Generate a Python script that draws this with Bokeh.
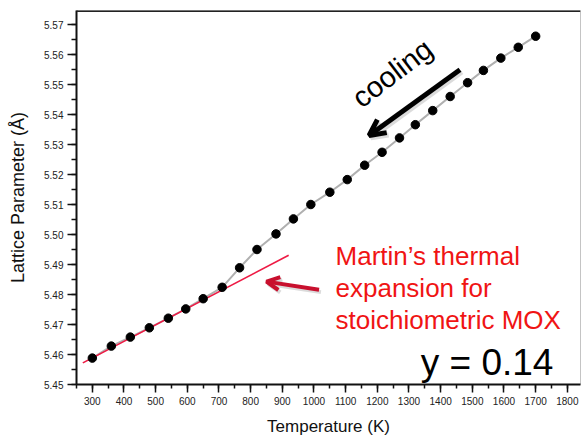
from bokeh.plotting import figure
from bokeh.models import (FixedTicker, PrintfTickFormatter, Span, Arrow, OpenHead,
                          ColumnDataSource)
from bokeh.core.properties import value
from bokeh.embed import file_html
from bokeh.resources import INLINE

# ---- data ----
temperature_K = [300, 360, 420, 480, 540, 595, 650, 710, 765, 820, 880, 935, 990,
                 1050, 1105, 1160, 1215, 1270, 1320, 1375, 1430, 1485, 1535,
                 1590, 1645, 1700]
lattice_A = [5.4588, 5.4628, 5.4658, 5.4689, 5.4721, 5.4752, 5.4786, 5.4824,
             5.4889, 5.4950, 5.5002, 5.5052, 5.5100, 5.5141, 5.5183, 5.5231,
             5.5274, 5.5322, 5.5366, 5.5413, 5.5460, 5.5506, 5.5547, 5.5588,
             5.5624, 5.5661]

martin_T = [270, 920]
martin_A = [5.4572, 5.4931]

x_major_ticks = list(range(300, 1801, 100))
x_minor_ticks = list(range(250, 1851, 50))
y_major_ticks = [5.45, 5.46, 5.47, 5.48, 5.49, 5.50, 5.51, 5.52, 5.53, 5.54,
                 5.55, 5.56, 5.57]
y_minor_ticks = [5.445 + 0.005 * i for i in range(28)]

FONT = "Liberation Sans"

p = figure(width=582, height=438, output_backend="svg", toolbar_location=None,
           x_range=(250, 1841.6), y_range=(5.45, 5.57467),
           min_border_left=76, min_border_right=2, min_border_top=10,
           min_border_bottom=54)
p.background_fill_color = "white"
p.border_fill_color = "white"
p.outline_line_color = "#c4c4c4"
p.outline_line_width = 1
p.xgrid.visible = False
p.ygrid.visible = False

# axes styling
for ax in (p.xaxis[0], p.yaxis[0]):
    ax.axis_line_color = "#111111"
    ax.axis_line_width = 2
    ax.major_tick_line_color = "#111111"
    ax.minor_tick_line_color = "#111111"
    ax.major_tick_line_width = 1.5
    ax.minor_tick_line_width = 1.5
    ax.major_tick_in = 0
    ax.minor_tick_in = 0
    ax.major_label_text_font = FONT
    ax.major_label_text_font_size = "10px"
    ax.major_label_text_color = "#222222"
    ax.axis_label_text_font = FONT
    ax.axis_label_text_font_style = "normal"
    ax.axis_label_text_color = "#111111"

p.xaxis.axis_label_text_font_size = "17px"
p.yaxis.axis_label_text_font_size = "18px"
p.xaxis.ticker = FixedTicker(ticks=x_major_ticks, minor_ticks=x_minor_ticks)
p.yaxis.ticker = FixedTicker(ticks=y_major_ticks, minor_ticks=y_minor_ticks)
p.yaxis.formatter = PrintfTickFormatter(format="%.2f")
p.xaxis.major_tick_out = 8
p.xaxis.minor_tick_out = 4
p.yaxis.major_tick_out = 9
p.yaxis.minor_tick_out = 5
p.xaxis.major_label_standoff = 4
p.yaxis.major_label_standoff = 4
p.xaxis.axis_label = "Temperature (K)"
p.yaxis.axis_label = "Lattice Parameter (Å)"
p.xaxis.axis_label_standoff = 9
p.yaxis.axis_label_standoff = 13

# dark top border
p.add_layout(Span(location=5.57467, dimension="width", line_color="#222222",
                  line_width=3))

# data
src = ColumnDataSource(dict(T=temperature_K, a=lattice_A))
p.line("T", "a", source=src, line_color="#b0b0b0", line_width=2)
p.line(martin_T, martin_A, line_color="#ee1a44", line_width=1.6)
p.scatter("T", "a", source=src, size=8.5, fill_color="black", line_color="black")

# arrow shadows
p.add_layout(Arrow(end=OpenHead(size=16, line_width=5, line_color="#999999",
                                line_alpha=0.35),
                   x_start=1467, y_start=5.5542, x_end=1180, y_end=5.5322,
                   line_color="#999999", line_width=5, line_alpha=0.35))
p.add_layout(Arrow(end=OpenHead(size=13, line_width=4, line_color="#999999",
                                line_alpha=0.35),
                   x_start=1022, y_start=5.4808, x_end=856, y_end=5.4835,
                   line_color="#999999", line_width=4, line_alpha=0.35))
# arrows
p.add_layout(Arrow(end=OpenHead(size=16, line_width=5, line_color="black"),
                   x_start=1461, y_start=5.5549, x_end=1174, y_end=5.5330,
                   line_color="black", line_width=5))
p.add_layout(Arrow(end=OpenHead(size=13, line_width=4, line_color="#c8102e"),
                   x_start=1016, y_start=5.4816, x_end=850, y_end=5.4843,
                   line_color="#c8102e", line_width=4))

# texts
p.text(x=[1247], y=[5.5538], text=["cooling"], angle=0.65,
       text_align="center", text_baseline="middle",
       text_font=value(FONT), text_font_size="29px", text_color="black")
p.text(x=[1068, 1068, 1068], y=[5.4930, 5.4823, 5.4716],
       text=["Martin’s thermal", "expansion for", "stoichiometric MOX"],
       text_align="left", text_baseline="alphabetic",
       text_font=value(FONT), text_font_size="26px", text_color="#f01414")
p.text(x=[1337], y=[5.4574], text=["y = 0.14"],
       text_align="left", text_baseline="alphabetic",
       text_font=value(FONT), text_font_size="37px", text_color="black")

open("out.html", "w").write(file_html(p, INLINE))
